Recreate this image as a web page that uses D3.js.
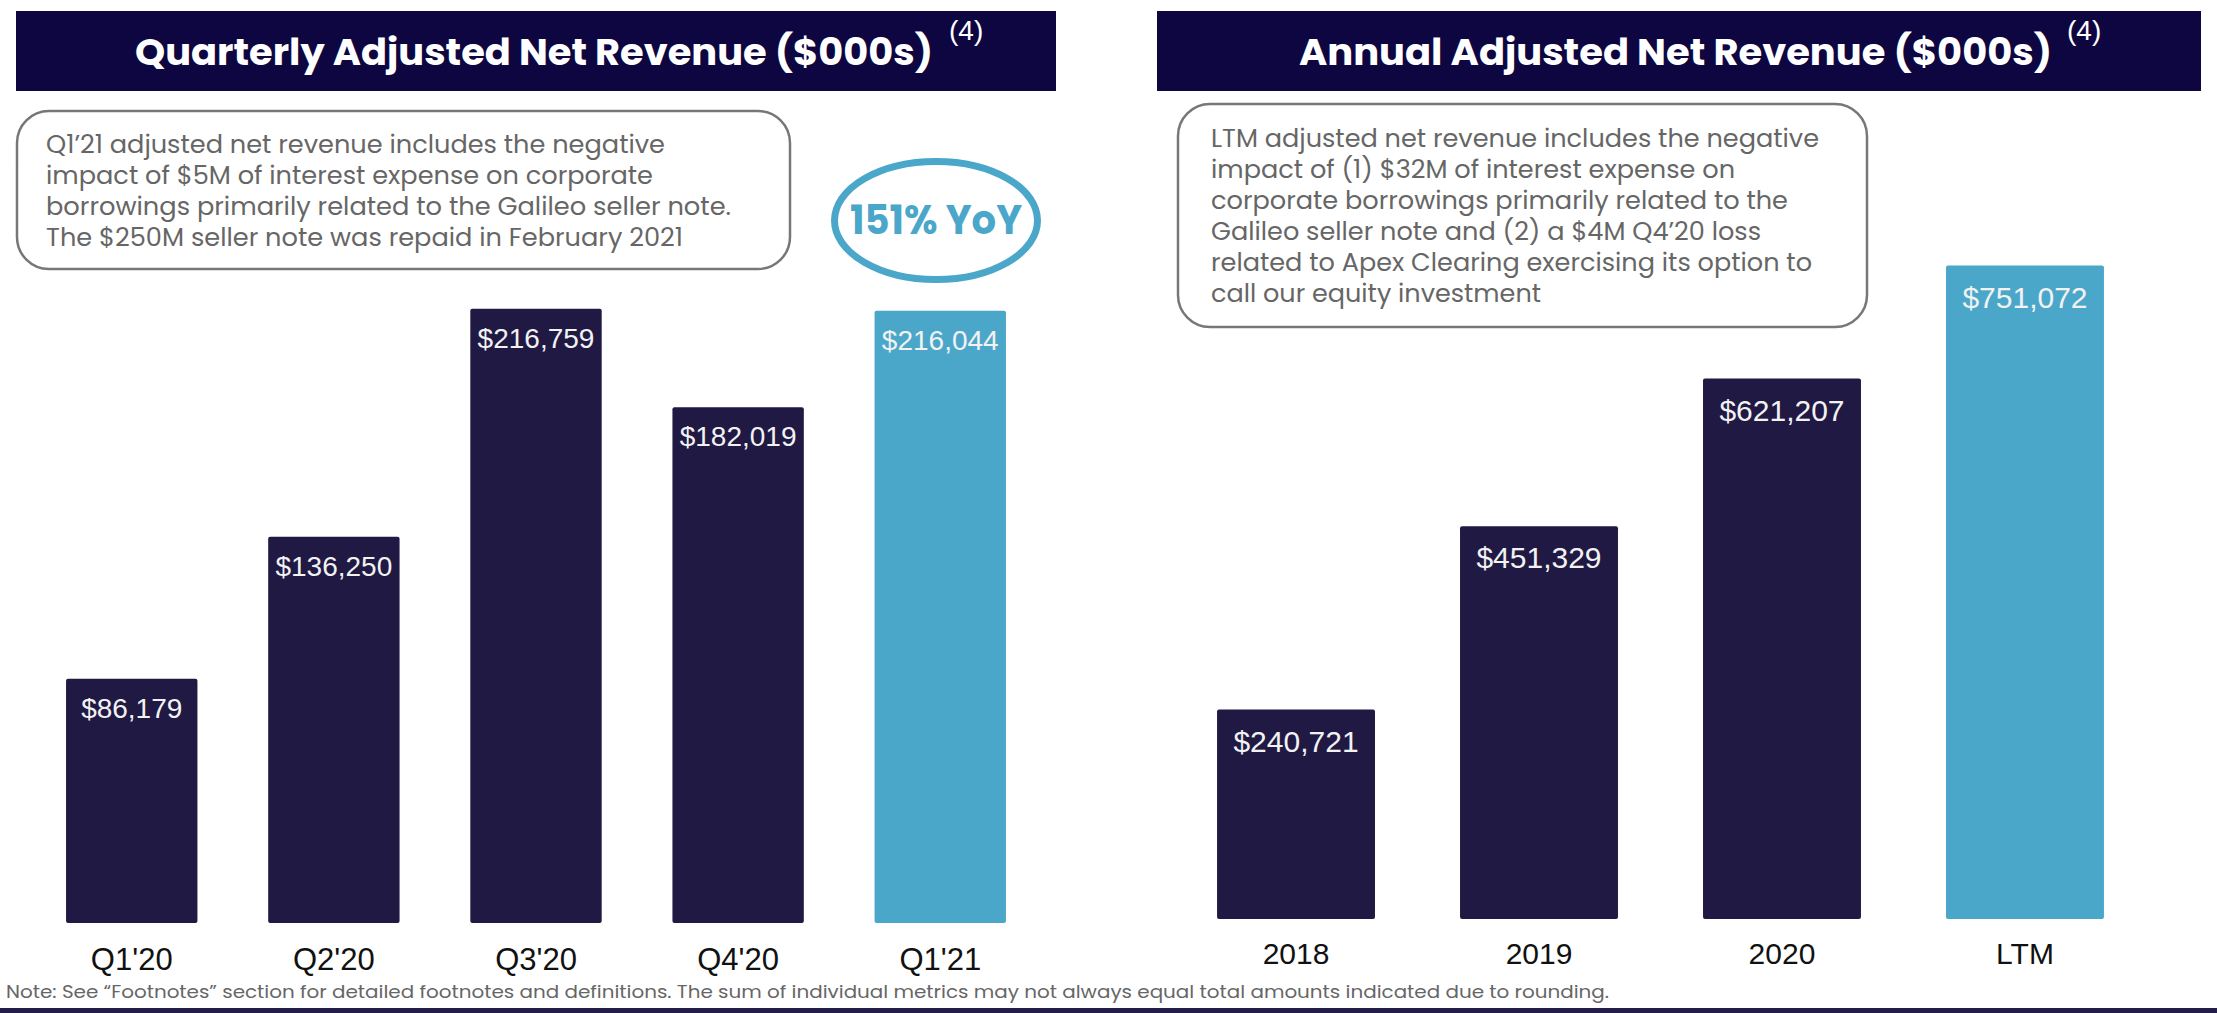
<!DOCTYPE html>
<html>
<head>
<meta charset="utf-8">
<script src="https://cdn.jsdelivr.net/npm/d3@7"></script>
<style>
  body { margin: 0; background: #fff; }
  svg { display: block; }
  .title { font-family: Poppins, 'Open Sans', sans-serif; font-weight: 700; fill: #fff; }
  .sup { font-family: 'Liberation Sans', Arial, sans-serif; fill: #fff; }
  .note { font-family: Poppins, 'Open Sans', sans-serif; fill: #666; }
  .bar-label { font-family: 'Liberation Sans', Arial, sans-serif; fill: #f2f2f2; text-anchor: middle; }
  .tick text { font-family: 'Liberation Sans', Arial, sans-serif; fill: #111; }
</style>
</head>
<body>
<svg width="2217" height="1013"></svg>
<script>
(function (d3) {
  'use strict';

  // data
  const quarters = ["Q1'20", "Q2'20", "Q3'20", "Q4'20", "Q1'21"];
  const quarterlyRevenue = [86179, 136250, 216759, 182019, 216044];
  const years = ['2018', '2019', '2020', 'LTM'];
  const annualRevenue = [240721, 451329, 621207, 751072];

  const quarterlyNote = [
    'Q1’21 adjusted net revenue includes the negative',
    'impact of $5M of interest expense on corporate',
    'borrowings primarily related to the Galileo seller note.',
    'The $250M seller note was repaid in February 2021'
  ];
  const annualNote = [
    'LTM adjusted net revenue includes the negative',
    'impact of (1) $32M of interest expense on',
    'corporate borrowings primarily related to the',
    'Galileo seller note and (2) a $4M Q4’20 loss',
    'related to Apex Clearing exercising its option to',
    'call our equity investment'
  ];
  const footnote = 'Note: See “Footnotes” section for detailed footnotes and definitions. The sum of individual metrics may not always equal total amounts indicated due to rounding.';

  const navy = '#1f1944';
  const blue = '#4ba7ca';
  const headerColor = '#0e0641';

  const svg = d3.select('svg');
  const fmt = d => '$' + d3.format(',')(d);

  svg.append('rect').attr('width', 2217).attr('height', 1013).attr('fill', '#fff');

  // header banners
  const header = (x, w, title, titleX, titleW, supX) => {
    svg.append('rect')
      .attr('x', x).attr('y', 11).attr('width', w).attr('height', 80)
      .attr('fill', headerColor);
    svg.append('text')
      .attr('class', 'title')
      .attr('x', titleX).attr('y', 65)
      .attr('font-size', 36)
      .attr('textLength', titleW)
      .attr('lengthAdjust', 'spacingAndGlyphs')
      .text(title);
    svg.append('text')
      .attr('class', 'sup')
      .attr('x', supX).attr('y', 40)
      .attr('font-size', 28)
      .text('(4)');
  };
  header(16, 1040, 'Quarterly Adjusted Net Revenue ($000s)', 135, 798, 949);
  header(1157, 1044, 'Annual Adjusted Net Revenue ($000s)', 1299, 753, 2067);

  // rounded note boxes
  const noteBox = (x, y, w, h, lines, tx, ty, widths) => {
    svg.append('rect')
      .attr('x', x).attr('y', y).attr('width', w).attr('height', h)
      .attr('rx', 32).attr('ry', 32)
      .attr('fill', '#fff').attr('stroke', '#777').attr('stroke-width', 2.5);
    svg.append('g').selectAll('text').data(lines)
      .enter().append('text')
        .attr('class', 'note')
        .attr('x', tx)
        .attr('y', (d, i) => ty + i * 31)
        .attr('font-size', 24)
        .attr('textLength', (d, i) => widths[i])
        .attr('lengthAdjust', 'spacingAndGlyphs')
        .text(d => d);
  };
  noteBox(17, 111, 773, 158, quarterlyNote, 46, 153, [619, 607, 685, 637]);
  noteBox(1178, 104, 689, 223, annualNote, 1211, 147, [608, 524, 577, 550, 601, 330]);

  // bar chart
  const render = (cats, values, opts) => {
    const xScale = d3.scaleBand()
      .domain(cats)
      .range(opts.xRange)
      .paddingInner(0.35)
      .paddingOuter(0.35);

    const yScale = d3.scaleLinear()
      .domain(opts.yDomain)
      .range([opts.base, opts.top]);

    const data = cats.map((c, i) => ({ cat: c, value: values[i], last: i === cats.length - 1 }));

    const g = svg.append('g');

    g.selectAll('rect.bar').data(data)
      .enter().append('rect')
        .attr('class', 'bar')
        .attr('x', d => xScale(d.cat))
        .attr('y', d => yScale(d.value))
        .attr('width', xScale.bandwidth())
        .attr('height', d => opts.base - yScale(d.value))
        .attr('rx', 2)
        .attr('fill', d => d.last ? blue : navy);

    g.selectAll('text.bar-label').data(data)
      .enter().append('text')
        .attr('class', 'bar-label')
        .attr('x', d => xScale(d.cat) + xScale.bandwidth() / 2)
        .attr('y', d => yScale(d.value) + opts.labelOffset)
        .attr('font-size', opts.labelSize)
        .text(d => fmt(d.value));

    const xAxis = d3.axisBottom(xScale)
      .tickSize(0)
      .tickPadding(opts.tickPadding);

    const xAxisG = g.append('g')
      .attr('transform', `translate(0,${opts.base})`)
      .call(xAxis);
    xAxisG.select('.domain').remove();
    xAxisG.selectAll('.tick text').attr('font-size', opts.tickSize);
  };

  render(quarters, quarterlyRevenue, {
    xRange: [-4.7, 1076.7], yDomain: [0, 250000], base: 923, top: 214.5,
    labelOffset: 39, labelSize: 28, tickPadding: 25, tickSize: 31
  });
  render(years, annualRevenue, {
    xRange: [1132, 2189], yDomain: [0, 800000], base: 919, top: 223,
    labelOffset: 42, labelSize: 30, tickPadding: 24, tickSize: 30
  });

  // YoY callout
  svg.append('ellipse')
    .attr('cx', 936).attr('cy', 220.5).attr('rx', 101.5).attr('ry', 59)
    .attr('fill', 'none').attr('stroke', blue).attr('stroke-width', 7);
  svg.append('text')
    .attr('x', 936).attr('y', 234)
    .attr('text-anchor', 'middle')
    .attr('font-family', "Poppins, 'Open Sans', sans-serif")
    .attr('font-weight', 700)
    .attr('font-size', 40)
    .attr('textLength', 172)
    .attr('lengthAdjust', 'spacingAndGlyphs')
    .attr('fill', blue)
    .text('151% YoY');

  // footnote
  svg.append('text')
    .attr('class', 'note')
    .attr('x', 6).attr('y', 998)
    .attr('font-size', 18)
    .attr('textLength', 1603)
    .attr('lengthAdjust', 'spacingAndGlyphs')
    .text(footnote);

  // bottom strip
  svg.append('rect')
    .attr('x', 0).attr('y', 1008).attr('width', 2217).attr('height', 5)
    .attr('fill', '#231d4a');

}(d3));
</script>
</body>
</html>
